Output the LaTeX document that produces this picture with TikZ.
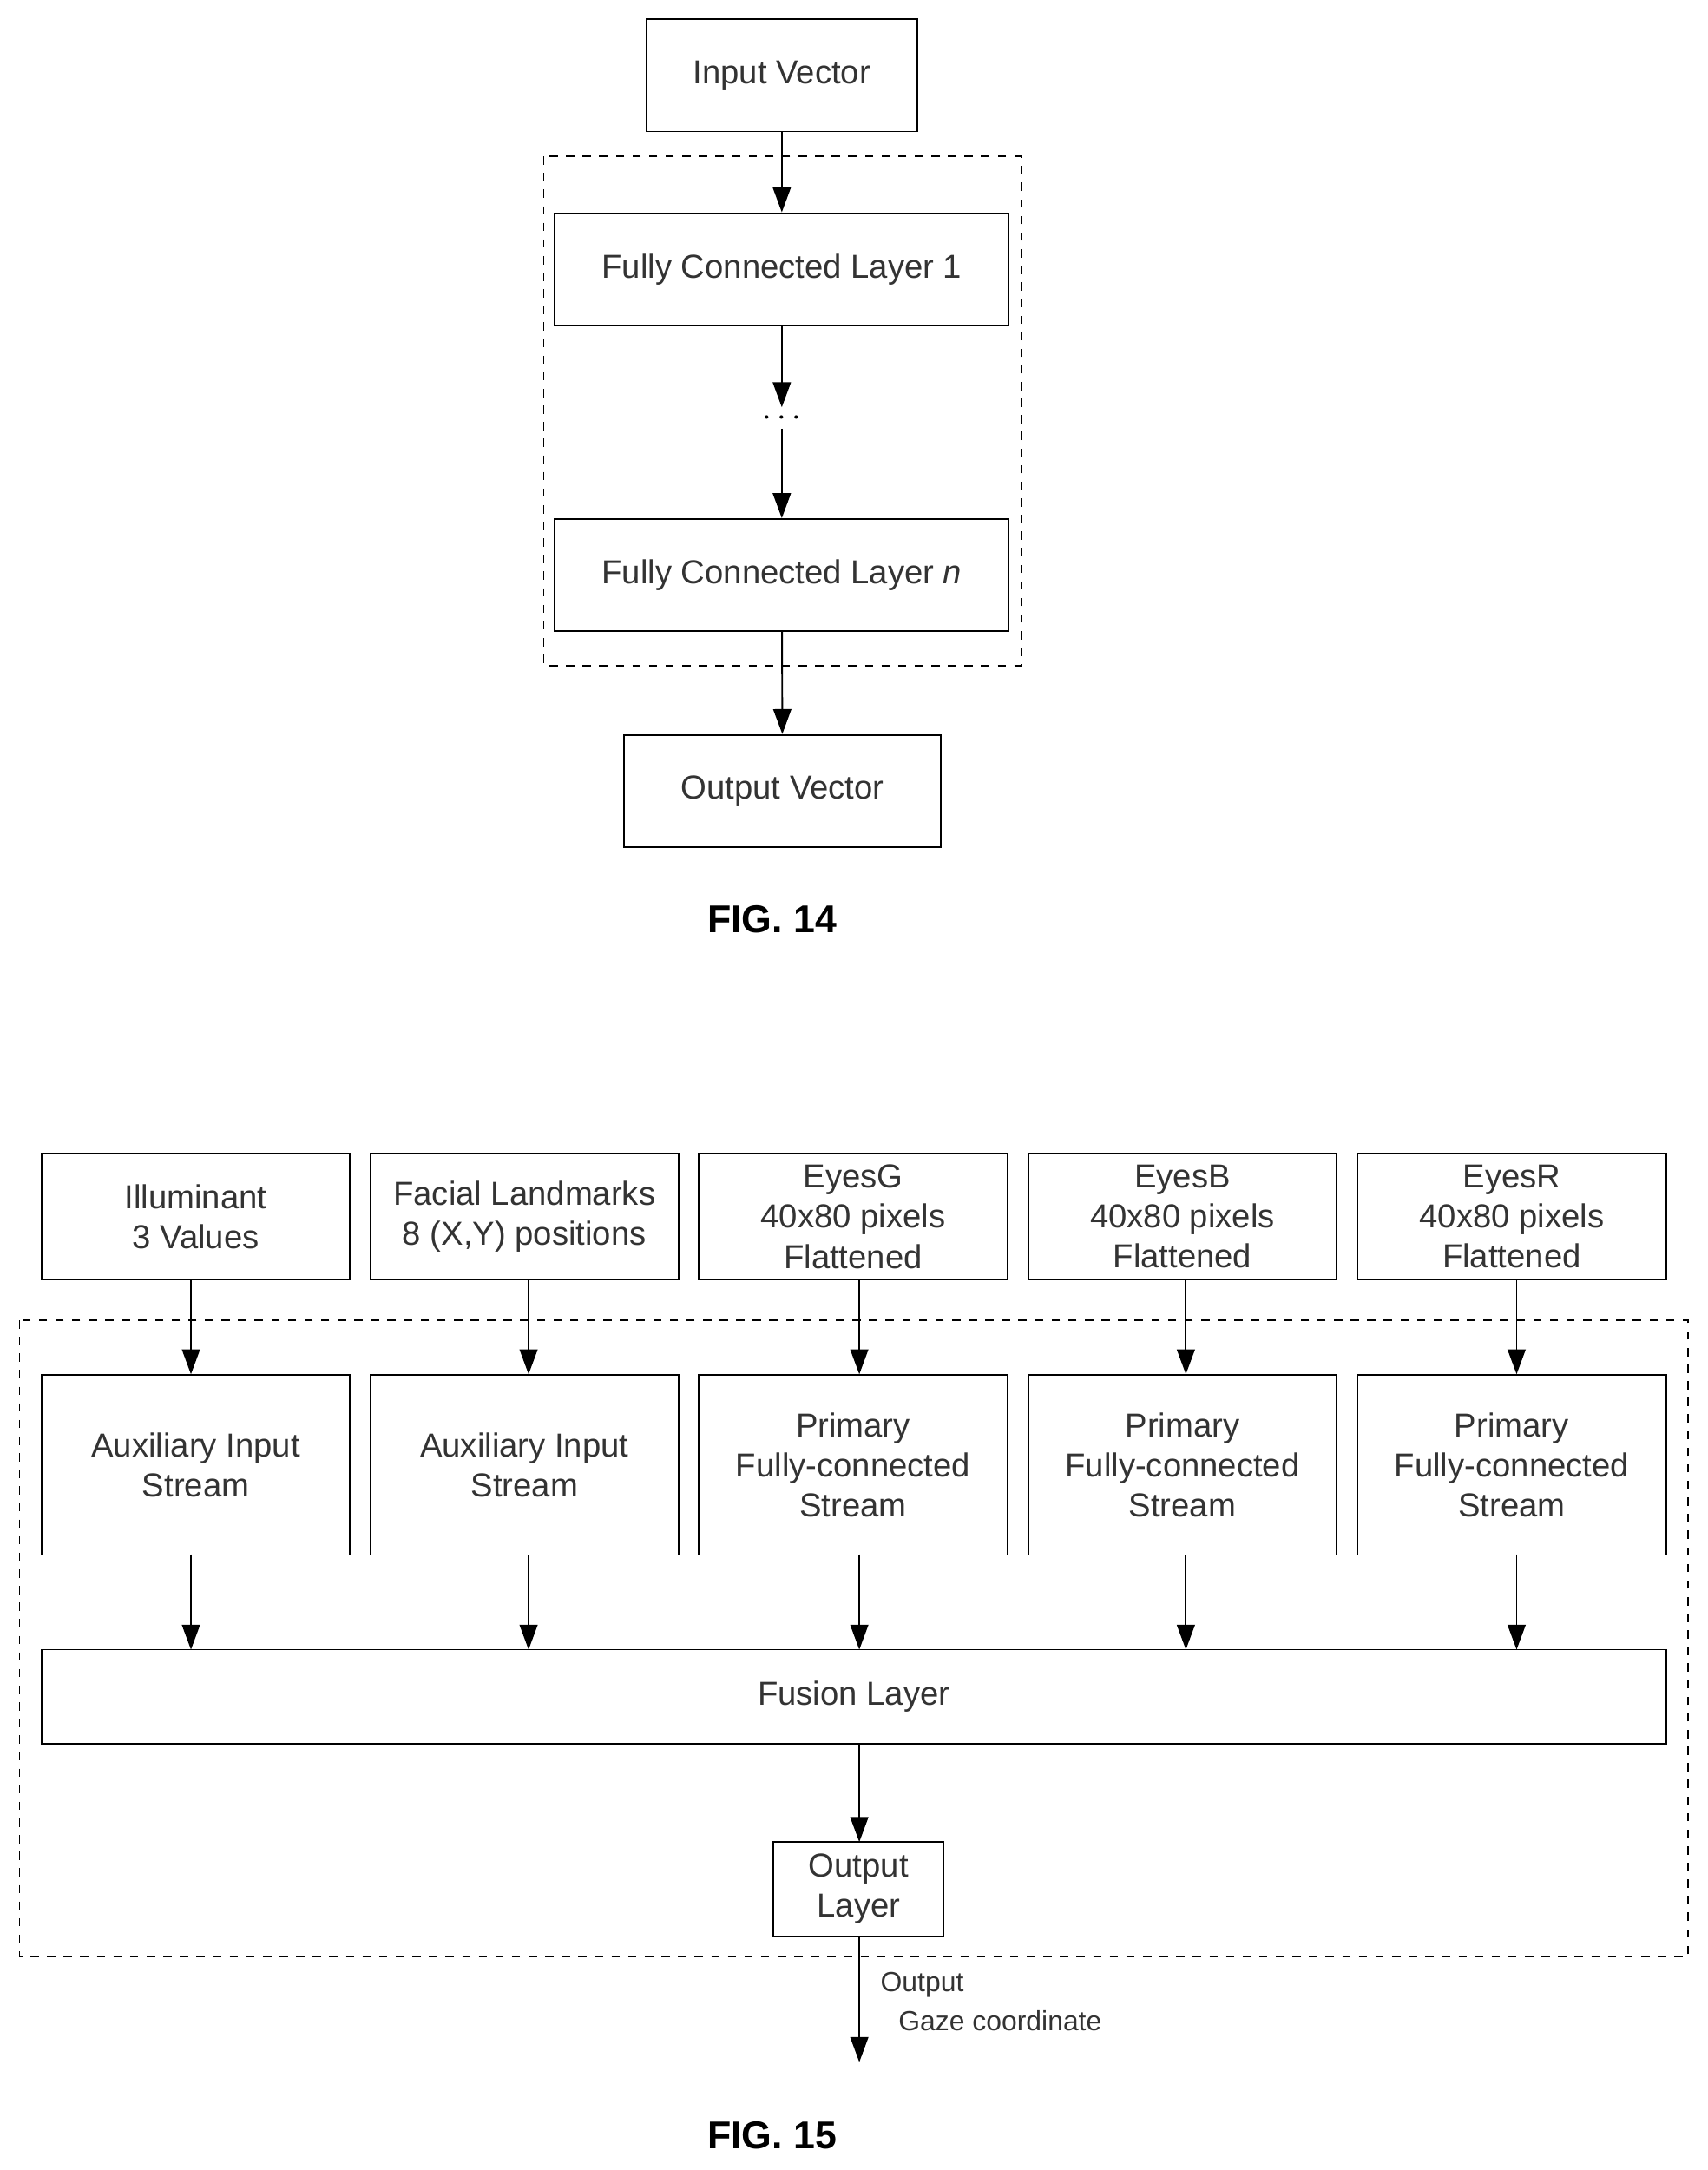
\documentclass[tikz,border=0pt]{standalone}
\usepackage{fontspec}
\setmainfont{Liberation Sans}
\usetikzlibrary{arrows.meta}
\begin{document}
\begin{tikzpicture}[x=0.5pt,y=-0.5pt,
 box/.style={draw,line width=0.6pt,inner sep=0pt,align=center,font=\fontsize{12}{14.5}\selectfont,text=black!80},
 arr/.style={line width=0.6pt,-{Triangle[length=9pt,width=6.5pt]}},
 dbox/.style={draw,dashed,line width=0.5pt},
 fig/.style={font=\bfseries\fontsize{14}{16}\selectfont}]
\useasboundingbox (0,0) rectangle (1234,1568);
% FIG 14
\node[box,minimum width=98pt,minimum height=40.5pt] (in) at (565,54.5) {Input Vector};
\draw[dbox] (393,113) rectangle (738,481);
\node[box,minimum width=164pt,minimum height=40.5pt] (f1) at (565,194.5) {Fully Connected Layer 1};
\node[font=\fontsize{12}{14}\selectfont,inner sep=1pt] (dots) at (565,302) {$\cdots$};
\node[box,minimum width=164pt,minimum height=40.5pt] (fn) at (565,415.5) {Fully Connected Layer \textit{n}};
\node[box,minimum width=114.5pt,minimum height=40.5pt] (out) at (565.5,571.5) {Output Vector};
\draw[arr] (in) -- (f1);
\draw[arr] (f1) -- (dots);
\draw[arr] (dots) -- (fn);
\draw[arr] (fn) -- (out);
\node[fig] (fig14) at (558,664) {FIG. 14};
% FIG 15
\draw[dbox] (14,954) rectangle (1220,1414);
\foreach \n/\c/\t in {a/141.5/{Illuminant\\3 Values},b/379/{Facial Landmarks\\8 (X,Y) positions},c/616.5/{EyesG\\40x80 pixels\\Flattened},d/854.5/{EyesB\\40x80 pixels\\Flattened},e/1092.5/{EyesR\\40x80 pixels\\Flattened}}{
 \node[box,minimum width=111.5pt,minimum height=45.5pt,anchor=north] (t\n) at (\c,833) {\t};
}
\foreach \n/\c/\t in {a/141.5/{Auxiliary Input\\Stream},b/379/{Auxiliary Input\\Stream},c/616.5/{Primary\\Fully-connected\\Stream},d/854.5/{Primary\\Fully-connected\\Stream},e/1092.5/{Primary\\Fully-connected\\Stream}}{
 \node[box,minimum width=111.5pt,minimum height=65pt,anchor=north] (s\n) at (\c,993) {\t};
}
\node[box,minimum width=587pt,minimum height=34pt] (fus) at (617,1226) {Fusion Layer};
\node[box,minimum width=61.5pt,minimum height=34pt] (ol) at (620.5,1365) {Output\\Layer};
\foreach \n/\x in {a/138,b/382,c/621,d/857,e/1096}{
 \draw[arr] (\x,924) -- (\x,993);
 \draw[arr] (\x,1123) -- (\x,1192);
}
\draw[arr] (621,1260) -- (621,1331);
\coordinate (end) at (621,1490);
\draw[arr] (621,1399) -- (end);
\node[anchor=west,font=\fontsize{10}{12}\selectfont,text=black!80,inner sep=0pt] (o1) at (636,1434) {Output};
\node[anchor=west,font=\fontsize{10}{12}\selectfont,text=black!80,inner sep=0pt] (o2) at (649,1460) {Gaze coordinate};
\node[fig] (fig15) at (558,1543) {FIG. 15};
\end{tikzpicture}
\end{document}
